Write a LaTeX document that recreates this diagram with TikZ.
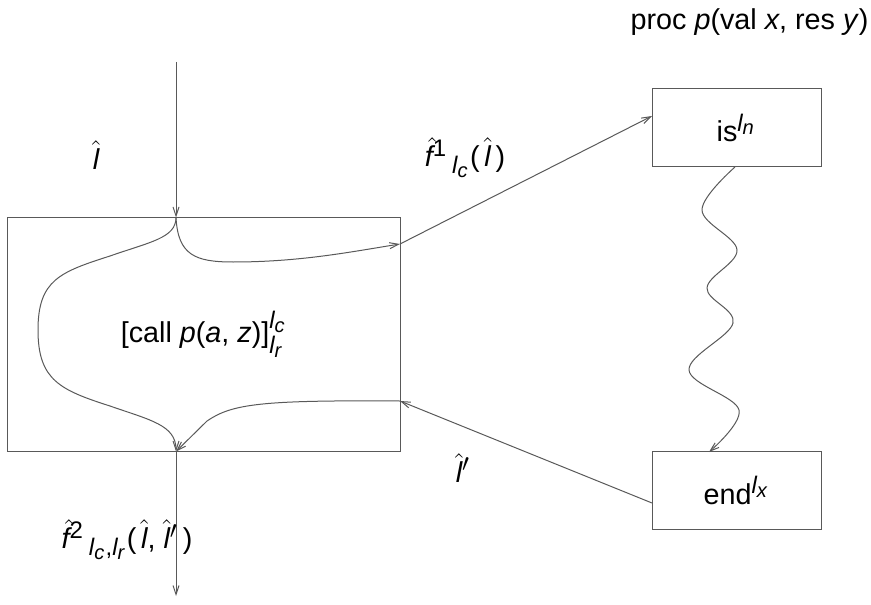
\documentclass[tikz,border=0pt]{standalone}
\usepackage{fontspec}
\setmainfont{Liberation Sans}
\usepackage[italic]{mathastext}
\usepackage{tikz}
\usetikzlibrary{arrows.meta}

\begin{document}
\begin{tikzpicture}[x=0.4pt, y=-0.4pt,
  box/.style={draw=black!65, inner sep=0pt, font=\fontsize{11.5}{14}\selectfont},
  lab/.style={font=\fontsize{11.5}{14}\selectfont, inner sep=0pt},
  arr/.style={draw=black!65, -{Straight Barb[length=3.6pt, width=2.4pt]}}]
  \useasboundingbox (0,0) rectangle (871,605);
  % ---------------- call site
  \node[box, minimum width=156.8pt, minimum height=93.2pt] (callbox) at (204,334.5) {[call \textit{p}(\textit{a}, \textit{z})]$^{l_c}_{l_r}$};
  \coordinate (src) at (176,62);
  \coordinate (sink) at (176,596);
  \coordinate (cout) at (400,244);
  \coordinate (cin) at (400,401);
  \draw[arr] (src) -- (callbox.north -| src);
  \draw[arr] (callbox.south -| sink) -- (sink);
  \draw[arr] (callbox.north -| src) .. controls (178,255) and (195,262) .. (233,262)
     .. controls (300,262) and (350,252) .. (cout);
  \draw[arr] (callbox.north -| src) .. controls (176,238) and (150,242) .. (110,256)
     .. controls (60,272) and (38,280) .. (38,330)
     .. controls (38,380) and (60,390) .. (110,406)
     .. controls (150,420) and (176,425) .. (callbox.south -| sink);
  \draw[arr] (cin) .. controls (260,400) and (232,404) .. (207,421) -- (callbox.south -| sink);
  \node[lab] (lin) at (96,155) {$\hat{l}$};
  \node[lab] (lout) at (127,540) {$\skew{4}\hat{f}$\textsuperscript{2}\,$_{l_c,l_r}$(\,$\hat{l}$, $\hat{l}'$\,)};
  % ---------------- procedure
  \node[lab, anchor=east] (proc) at (869,22) {proc \textit{p}(val \textit{x}, res \textit{y})};
  \node[box, minimum width=67.6pt, minimum height=31.2pt] (isbox) at (736.5,128) {is$^{l_n}$};
  \node[box, minimum width=67.6pt, minimum height=31.2pt] (endbox) at (736.5,490.5) {end$^{l_x}$};
  \coordinate (pin) at (652,116);
  \coordinate (rout) at (652,503);
  \draw[arr] (cout) -- (pin);
  \draw[arr] (rout) -- (cin);
  \node[lab] (lcall) at (465,158) {$\skew{4}\hat{f}$\textsuperscript{1}\,$_{l_c}$(\,$\hat{l}$\,)};
  \node[lab] (lret) at (463,468) {$\hat{l}'$};
  \draw[arr] (isbox.south -| 735,0) plot[smooth, tension=0.6] coordinates {(735,167) (702,210) (737,250) (707,288) (733,323) (689,370) (739,410) (709,452)};
\end{tikzpicture}
\end{document}
